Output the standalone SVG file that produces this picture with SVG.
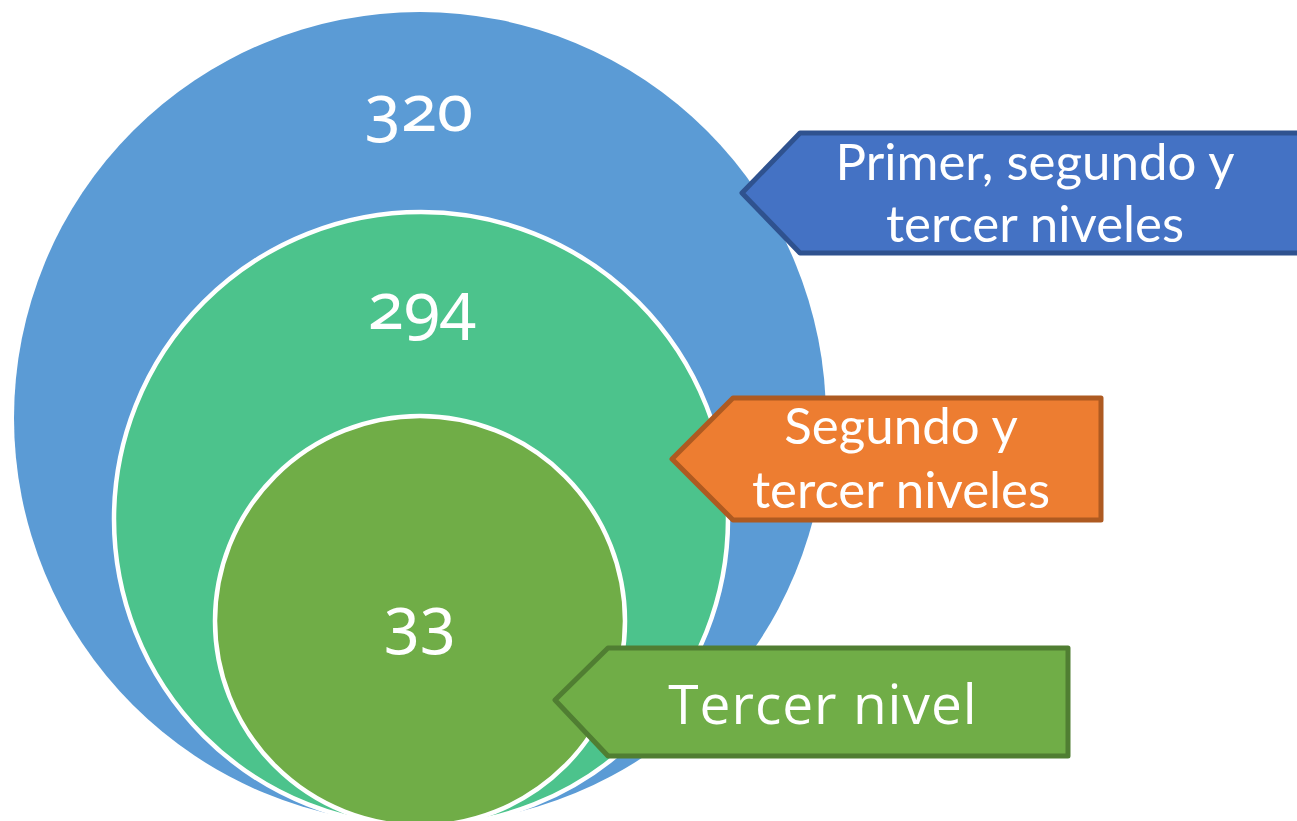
<svg xmlns="http://www.w3.org/2000/svg" width="1297" height="821" viewBox="0 0 1297 821">
<style>
.circ{stroke:#fff;stroke-width:4.5}
.num{font-family:"Noto Sans",Lato,sans-serif;fill:#fff;text-anchor:middle;font-size:66px;font-variant-numeric:oldstyle-nums;font-feature-settings:"onum" 1}
.lbl{font-family:Lato,"Open Sans",sans-serif;fill:#fff;text-anchor:middle;font-size:51px}
.co{stroke-width:5;stroke-linejoin:round}
</style>
<rect width="1297" height="821" fill="#fff"/>
<g id="outer">
<circle cx="420" cy="418" r="406" fill="#5B9BD5"/>
<text class="num" x="419" y="131">320</text>
</g>
<g id="middle">
<circle class="circ" cx="421" cy="519" r="307" fill="#4CC38C"/>
<text class="num" x="422" y="329">294</text>
</g>
<g id="inner">
<circle class="circ" cx="420" cy="621" r="205" fill="#70AD47"/>
<text class="num" x="420" y="643">33</text>
</g>
<g id="connectors"></g>
<g id="callout-blue">
<path class="co" d="M742,193 L800,133 L1300,133 L1300,253 L800,253 Z" fill="#4472C4" stroke="#2F528F"/>
<text class="lbl" x="1035" y="180">Primer, segundo y</text>
<text class="lbl" x="1035" y="242">tercer niveles</text>
</g>
<g id="callout-orange">
<path class="co" d="M672,459 L733,398 L1101,398 L1101,520 L733,520 Z" fill="#ED7D31" stroke="#AE5A21"/>
<text class="lbl" x="901" y="444">Segundo y</text>
<text class="lbl" x="901" y="508">tercer niveles</text>
</g>
<g id="callout-green">
<path class="co" d="M555,700 L608,648 L1068,648 L1068,756 L608,756 Z" fill="#70AD47" stroke="#507E32"/>
<text x="823" y="724" font-family="'Open Sans',Lato,sans-serif" font-size="55" letter-spacing="1" fill="#fff" text-anchor="middle">Tercer nivel</text>
</g>
</svg>
